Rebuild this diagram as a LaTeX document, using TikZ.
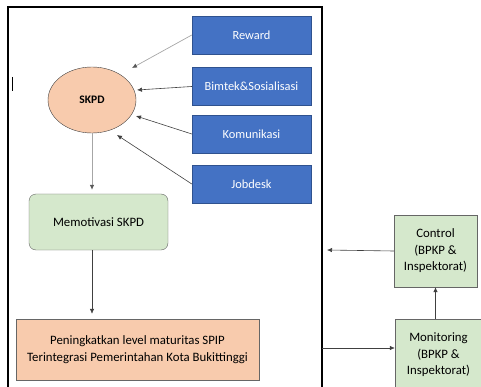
\documentclass[tikz,border=0pt]{standalone}
\usepackage{fontspec}
\setmainfont{Carlito}
\usetikzlibrary{shapes.geometric,arrows.meta}
\definecolor{blue_fill}{HTML}{4472C4}
\definecolor{blue_edge}{HTML}{2F528F}
\definecolor{salmon_fill}{HTML}{F8CBAD}
\definecolor{green_fill}{HTML}{D5E8CC}
\definecolor{grey_arrow}{HTML}{A6A6A6}
\begin{document}
\begin{tikzpicture}[x=1pt,y=-1pt,font=\fontsize{12.8}{16.5}\selectfont,
  blue_style/.style={rectangle,draw=blue_edge,fill=blue_fill,text=white,minimum width=119,minimum height=38,inner sep=0,font=\fontsize{12.4}{15}\selectfont},
  green_style/.style={rectangle,draw=black!60,fill=green_fill,align=center,inner sep=0},
  edge_style/.style={draw=black!75,line width=0.6,-{Latex[length=5,width=4.5]}},
  grey_edge/.style={draw=grey_arrow,line width=0.7,-{Latex[length=5,width=4.5,color=black!65]}}]
  \useasboundingbox (0,0) rectangle (481,387);
  % frame
  \draw[line width=2] (8,387) -- (8,7) -- (322,7) -- (322,387);
  \draw[line width=0.4] (12,77) -- (12,91);
  \draw
    (251.5,35) node[blue_style] (reward){Reward}
    (251.5,86.5) node[blue_style] (bimtek){Bimtek\&Sosialisasi}
    (251.5,134) node[blue_style] (komunikasi){Komunikasi}
    (251.5,184) node[blue_style] (jobdesk){Jobdesk}
    (92,100) node[ellipse,draw=black!75,fill=salmon_fill,minimum width=88,minimum height=66,inner sep=0,font=\fontsize{11.5}{14}\selectfont\bfseries] (skpd){SKPD}
    (98.5,222) node[green_style,rounded corners=7,minimum width=139,minimum height=56] (memotivasi){Memotivasi SKPD}
    (137.5,349.5) node[rectangle,draw=black!60,fill=salmon_fill,minimum width=243,minimum height=61,align=center,inner sep=0] (spip){Peningkatkan level maturitas SPIP\\Terintegrasi Pemerintahan Kota Bukittinggi}
    (435.5,251) node[green_style,minimum width=83,minimum height=72] (control){Control\\(BPKP \&\\Inspektorat)}
    (438.5,355) node[green_style,minimum width=87,minimum height=72] (monitoring){Monitoring\\(BPKP \&\\Inspektorat)};
  \coordinate (reward_end) at (132,68);
  \coordinate (bimtek_end) at (137,90);
  \coordinate (komunikasi_end) at (136,116);
  \coordinate (jobdesk_end) at (117,135);
  \coordinate (frame_in) at (327,250);
  \coordinate (frame_out) at (322,348);
  \draw[grey_edge] (reward.west) -- (reward_end);
  \draw[edge_style] (bimtek.west) -- (bimtek_end);
  \draw[edge_style] (komunikasi.west) -- (komunikasi_end);
  \draw[edge_style] (jobdesk.west) -- (jobdesk_end);
  \draw[grey_edge,shorten >=4] (skpd.south) -- (skpd.south |- memotivasi.north);
  \draw[edge_style,shorten >=5] (skpd.south |- memotivasi.south) -- (skpd.south |- spip.north);
  \draw[edge_style] (control.west) -- (frame_in);
  \draw[edge_style] (frame_out) -- (frame_out -| monitoring.west);
  \draw[edge_style] (monitoring.north -| control.south) -- (control.south);
\end{tikzpicture}
\end{document}
